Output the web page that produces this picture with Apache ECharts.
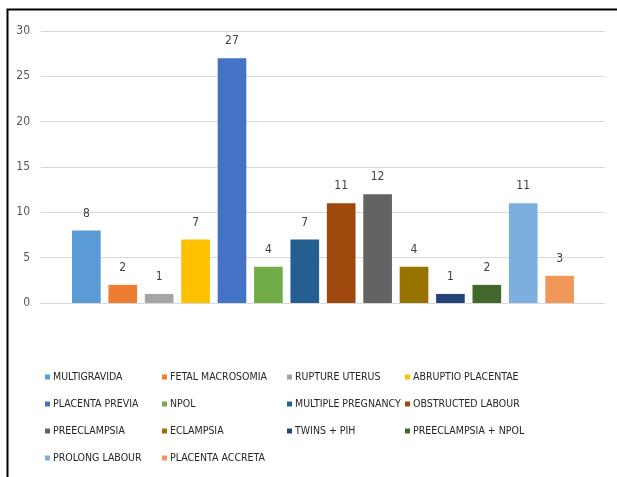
<!DOCTYPE html>
<html><head><meta charset="utf-8">
<script src="https://cdn.jsdelivr.net/npm/echarts@6/dist/echarts.min.js"></script>
<style>html,body{margin:0;padding:0;background:#fff}#c{width:617px;height:477px}</style>
</head><body><div id="c"></div>
<script>
const names = ["MULTIGRAVIDA","FETAL MACROSOMIA","RUPTURE UTERUS","ABRUPTIO PLACENTAE","PLACENTA PREVIA","NPOL","MULTIPLE PREGNANCY","OBSTRUCTED LABOUR","PREECLAMPSIA","ECLAMPSIA","TWINS + PIH","PREECLAMPSIA + NPOL","PROLONG LABOUR","PLACENTA ACCRETA"];
const values = [8,2,1,7,27,4,7,11,12,4,1,2,11,3];
const colors = ["#5B9BD5","#ED7D31","#A5A5A5","#FFC000","#4472C4","#70AD47","#255E91","#9E480E","#636363","#997300","#264478","#43682B","#7CAFDD","#F1975A"];
const yTicks = [0,5,10,15,20,25,30];

const font = '"Liberation Sans Narrow","DejaVu Sans Condensed",sans-serif';
const chart = echarts.init(document.getElementById('c'));
const colX = [45, 162, 287, 405];
const legends = colX.map((x, c) => ({
  orient: 'vertical', left: x, top: 370, padding: 0,
  data: names.filter((n, i) => i % 4 === c),
  icon: 'rect', itemWidth: 5, itemHeight: 5, itemGap: 13,
  textStyle: { fontFamily: font, fontSize: 10.5, color: '#262626', lineHeight: 14, padding: [0, 0, 0, -2] },
  selectedMode: false
}));
chart.setOption({
  animation: false,
  color: colors,
  graphic: [{ type: 'rect', left: 5, top: 7, shape: { width: 700, height: 600 }, style: { fill: 'none', stroke: '#000', lineWidth: 2 }, silent: true }],
  grid: { left: 41, right: 12, top: 31, bottom: 174 },
  legend: legends,
  xAxis: { type: 'category', data: [''], axisLine: { lineStyle: { color: '#D9D9D9' } }, axisTick: { show: false }, axisLabel: { show: false } },
  yAxis: { type: 'value', min: yTicks[0], max: yTicks[yTicks.length-1], interval: 5,
    axisLine: { show: false }, axisTick: { show: false },
    axisLabel: { fontFamily: font, fontSize: 12, color: '#595959', margin: 11 },
    splitLine: { lineStyle: { color: '#D9D9D9', width: 1 } } },
  series: names.map((n, i) => ({
    type: 'bar', name: n, data: [values[i]],
    barGap: '27%', barCategoryGap: '11%',
    itemStyle: { color: colors[i] },
    label: { show: true, position: 'top', distance: 11, fontFamily: font, fontSize: 12, color: '#404040' }
  }))
});
</script></body></html>
